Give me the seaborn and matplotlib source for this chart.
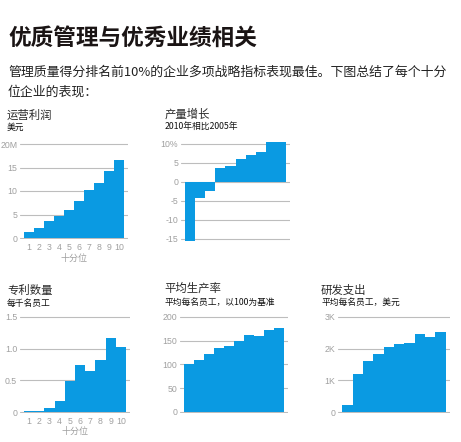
import matplotlib
matplotlib.use("Agg")
import matplotlib.pyplot as plt
import numpy as np
import pandas as pd
import seaborn as sns

# data (deciles 1..10)
DECILES = [str(i) for i in range(1, 11)]
profit = [1.3, 2.2, 3.6, 4.7, 6.0, 7.9, 10.2, 11.7, 14.3, 16.6]
output_growth = [-15.4, -4.3, -2.5, 3.8, 4.3, 6.1, 7.1, 8.0, 10.7, 10.7]
patents = [0.01, 0.01, 0.06, 0.17, 0.49, 0.74, 0.65, 0.82, 1.17, 1.03]
productivity = [100, 109, 122, 134, 139, 150, 162, 160, 172, 177]
rnd = [210, 1190, 1610, 1830, 2040, 2140, 2180, 2460, 2360, 2520]

profit_ticks = [0, 5, 10, 15, 20]
profit_labels = ['0', '5', '10', '15', '20M']
growth_ticks = [-15, -10, -5, 0, 5, 10]
growth_labels = ['-15', '-10', '-5', '0', '5', '10%']
patent_ticks = [0, 0.5, 1.0, 1.5]
patent_labels = ['0', '0.5', '1.0', '1.5']
prod_ticks = [0, 50, 100, 150, 200]
prod_labels = ['0', '50', '100', '150', '200']
rnd_ticks = [0, 1000, 2000, 3000]
rnd_labels = ['0', '1K', '2K', '3K']

BLUE = '#0a9ae2'
GRID = '#bdbdbd'
TICK = '#a0a0a0'
NUM_FONT = ['Liberation Sans Narrow', 'Liberation Sans', 'DejaVu Sans']
W, H = 461, 442

sns.set_theme(style='white')
plt.rcParams['font.family'] = ['Noto Sans CJK SC', 'DejaVu Sans']

fig = plt.figure(figsize=(W / 100, H / 100), dpi=100)


def panel(values, ticks, labels, x0, x1, ytop_px, ybot_px, vtop, vbot,
          lo, hi, title, sub, tx, ty, sy, xlabels=False):
    # map data range onto pixel box
    scale = (ybot_px - ytop_px) / (vtop - vbot)
    top = ytop_px - (hi - vtop) * scale
    bot = ybot_px + (vbot - lo) * scale
    ax = fig.add_axes([x0 / W, 1 - bot / H, (x1 - x0) / W, (bot - top) / H])
    df = pd.DataFrame({'decile': DECILES, 'value': values})
    sns.barplot(data=df, x='decile', y='value', color=BLUE, width=1.0,
                saturation=1, edgecolor='none', linewidth=0, ax=ax, zorder=3)
    ax.set_xlim(-0.9, 9.9)
    ax.set_ylim(lo, hi)
    ax.set_yticks(ticks)
    ax.set_yticklabels(labels)
    ax.yaxis.grid(True, color=GRID, linewidth=0.8, zorder=0)
    ax.set_axisbelow(True)
    for s in ax.spines.values():
        s.set_visible(False)
    ax.tick_params(axis='both', length=0, colors=TICK, labelsize=6.3)
    ax.tick_params(axis='y', pad=2)
    for t in ax.get_yticklabels():
        t.set_family(NUM_FONT)
    ax.set_ylabel('')
    if xlabels:
        for t in ax.get_xticklabels():
            t.set_family(NUM_FONT)
        ax.tick_params(axis='x', pad=3)
        ax.set_xlabel('十分位', fontsize=6.5, color=TICK, labelpad=1)
    else:
        ax.set_xticks([])
        ax.set_xlabel('')
    fig.text(tx / W, 1 - ty / H, title, fontsize=8.2, color='#2a2a2a',
             va='center', ha='left')
    fig.text(tx / W, 1 - sy / H, sub, fontsize=6.3, color='#111111',
             va='center', ha='left')
    return ax


panel(profit, profit_ticks, profit_labels, 20, 128, 144, 238, 20, 0,
      -0.15, 20.6, '运营利润', '美元', 7, 115, 127, xlabels=True)
panel(output_growth, growth_ticks, growth_labels, 181, 290, 144, 239, 10, -15,
      -16.2, 10.6, '产量增长', '2010年相比2005年', 165, 114, 126)
panel(patents, patent_ticks, patent_labels, 20, 130, 317, 412, 1.5, 0,
      -0.01, 1.55, '专利数量', '每千名员工', 7, 290, 303, xlabels=True)
panel(productivity, prod_ticks, prod_labels, 180, 288, 317, 412, 200, 0,
      -1.5, 205, '平均生产率', '平均每名员工，以100为基准', 164, 288, 302)
panel(rnd, rnd_ticks, rnd_labels, 338, 450, 317, 412, 3000, 0,
      -20, 3070, '研发支出', '平均每名员工，美元', 321, 290, 302)

fig.text(8 / W, 1 - 38 / H, '优质管理与优秀业绩相关', fontsize=16.3,
         fontweight='bold', color='#1a1414', va='center', ha='left')
fig.text(8 / W, 1 - 72.5 / H,
         '管理质量得分排名前10%的企业多项战略指标表现最佳。下图总结了每个十分',
         fontsize=9.3, color='#222222', va='center', ha='left')
fig.text(8 / W, 1 - 92 / H, '位企业的表现：', fontsize=9.3, color='#222222',
         va='center', ha='left')

fig.savefig('out.png', dpi=100, facecolor='white')
